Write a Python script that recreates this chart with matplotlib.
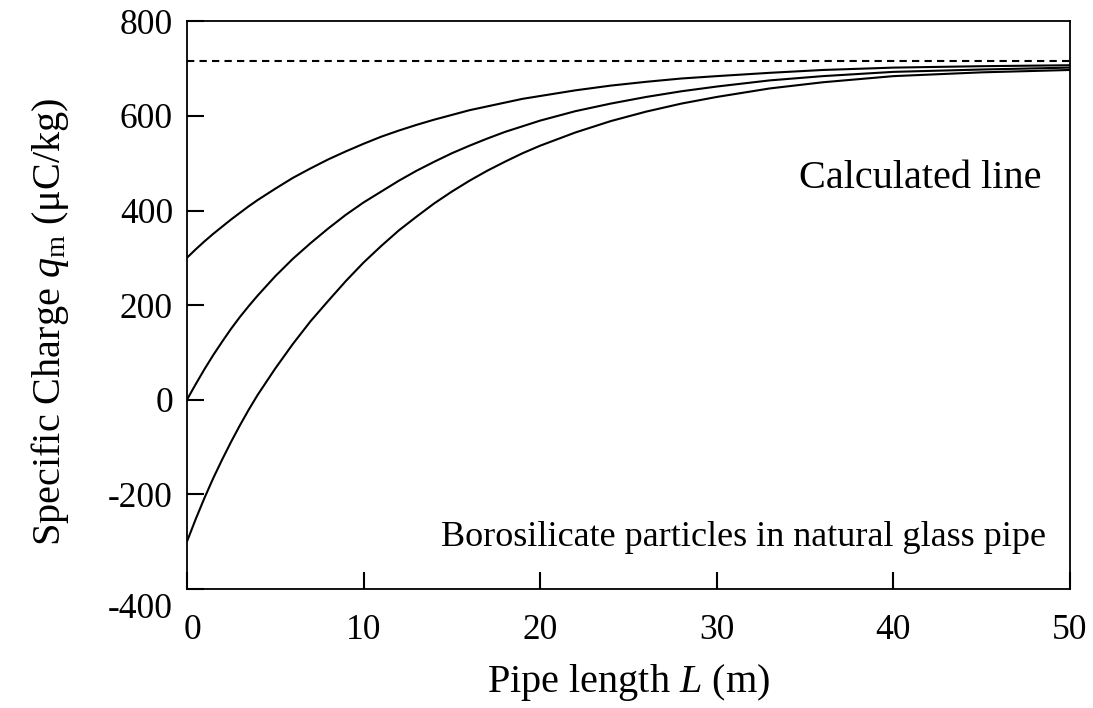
import matplotlib
matplotlib.use("Agg")
import matplotlib.pyplot as plt
from matplotlib.transforms import ScaledTranslation

plt.rcParams["font.family"] = ["Liberation Serif", "DejaVu Serif"]
plt.rcParams["mathtext.fontset"] = "custom"
plt.rcParams["mathtext.rm"] = "Liberation Serif"
plt.rcParams["mathtext.it"] = "Liberation Serif:italic"

# Pipe length (m)
pipe_length = [0, 0.5, 1, 1.5, 2, 2.5, 3, 3.5, 4, 5, 6, 7, 8, 9, 10, 11, 12,
               13, 14, 15, 16, 17, 18, 19, 20, 22, 24, 26, 28, 30, 33, 36,
               40, 45, 50]

# Specific charge (uC/kg) for three initial charge levels
charge_init_300 = [300, 318, 335, 351, 366, 381, 395, 409, 422, 446, 469, 489,
                   508, 525, 541, 556, 569, 581, 592, 602, 612, 620, 628, 636,
                   642, 654, 664, 672, 679, 684, 691, 697, 702, 705, 707]
charge_init_0 = [0, 33, 65, 95, 123, 150, 175, 198, 220, 261, 298, 331, 362,
                 391, 417, 440, 463, 484, 503, 521, 537, 552, 566, 578, 590,
                 610, 626, 640, 652, 662, 675, 684, 693, 698, 702]
charge_init_m300 = [-300, -252, -207, -165, -126, -89, -54, -21, 10, 66, 118,
                    166, 209, 251, 290, 325, 358, 387, 415, 440, 463, 484, 503,
                    521, 537, 565, 589, 609, 626, 640, 658, 671, 684, 692, 697]

# Saturation charge (calculated line)
saturation_charge = 715

x_ticks = [0, 10, 20, 30, 40, 50]
y_ticks = [-400, -200, 0, 200, 400, 600, 800]

fig = plt.figure(figsize=(10.93, 7.08), dpi=100)
ax = fig.add_axes([0.171, 0.168, 0.808, 0.802])

for series in (charge_init_300, charge_init_0, charge_init_m300):
    ax.plot(pipe_length, series, color="black", lw=1.5,
            solid_joinstyle="round", solid_capstyle="butt")

ax.axhline(saturation_charge, color="black", lw=1.5, dashes=(3.5, 2.5))

ax.set_xlim(0, 50)
ax.set_ylim(-400, 800)
ax.set_xticks(x_ticks)
ax.set_yticks(y_ticks)
ax.set_xticklabels([str(v) for v in x_ticks])
ax.set_yticklabels([str(v) for v in y_ticks])

ax.tick_params(axis="both", direction="in", length=12, width=1.5,
               labelsize=25.5, colors="black")
ax.tick_params(axis="x", pad=18)
ax.tick_params(axis="y", pad=10)

for spine in ax.spines.values():
    spine.set_linewidth(1.3)

# nudge the corner tick labels apart
lbl = ax.get_yticklabels()[0]
lbl.set_transform(lbl.get_transform() + ScaledTranslation(0, -16 / 100, fig.dpi_scale_trans))
lbl0 = ax.get_xticklabels()[0]
lbl0.set_transform(lbl0.get_transform() + ScaledTranslation(6 / 100, 0, fig.dpi_scale_trans))

ax.set_xlabel(r"Pipe length $\mathit{L}$ (m)", fontsize=29, labelpad=11)
ax.set_ylabel(r"Specific Charge $\mathit{q}_{\mathrm{m}}$ ($\mathrm{\mu}$C/kg)",
              fontsize=29)
ax.yaxis.set_label_coords(-0.131, 0.47)

ax.text(48.4, 468, "Calculated line", fontsize=29, ha="right", va="center")
ax.text(48.65, -292, "Borosilicate particles in natural glass pipe", fontsize=26,
        ha="right", va="center")

fig.savefig("out.png", dpi=100)
